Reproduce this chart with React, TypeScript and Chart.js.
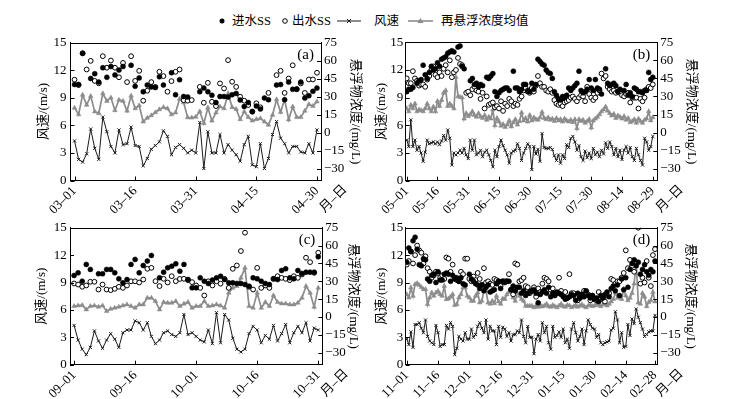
import React, { useEffect, useRef } from "react";
import { Chart, registerables } from "chart.js";
Chart.register(...registerables);

// ---------------- DATA ----------------
// Panel (a) 03-01 .. 04-30
const ticksA = ["03–01", "03–16", "03–31", "04–15", "04–30"];
const tickPosA = [0, 15, 30, 45, 60];
const windA = [4.3,2.3,2.0,2.9,5.6,3.5,2.3,6.9,5.3,3.7,3.0,5.5,3.9,4.0,5.8,3.8,3.7,1.6,2.4,3.4,3.8,4.2,5.4,4.8,2.8,3.6,3.9,3.5,3.0,3.3,3.0,6.3,1.3,5.3,3.0,3.0,5.0,3.0,3.9,3.3,2.8,2.1,3.9,4.8,1.7,1.5,4.0,1.3,2.4,5.0,6.4,4.6,4.0,3.0,3.7,3.7,3.1,3.0,4.0,3.0,5.5];
const resusA = [20.5,15,31.3,23,30.3,17.4,16,32.5,26.2,29,18.5,27.1,26.2,18.1,30.5,20,22.5,9,12.2,14.2,16.7,19.2,21,20,15,16.5,28,25,12.5,12.3,13,17.5,7.7,20.6,9.8,16.5,21.6,20,32.5,21,19.5,11,17.4,12.8,9.8,11,11.8,9,6.3,14.6,27.5,17,27.5,10.8,21.5,12.7,12.7,18,23.5,22,25.7];
const inflA = [40,40,66,null,45,49,42,54,46,55,48,52,55,null,56,38.5,45.5,34,39.5,38,37.5,46.4,39.5,null,49.8,31.5,44,30,29.6,null,null,34,37,34,31,25,30,30,29.5,31.5,32.6,27,21.7,25,17.5,22,19.6,28.7,27.3,null,39.5,40,27.3,42,36,36.3,42,28.7,30.7,34.3,37];
const efflA = [44,39.5,66,52.5,59.7,43,41,63.6,54,60,54,46,58,42,63.6,43,51.4,26.5,34.8,42,38,50.6,47,34,42.8,50.6,52.5,27,26.5,27,null,38,24.8,41.4,25.6,22,40.9,36.7,60.3,42.3,38,29.8,26.5,22.9,17.3,24.3,21,null,33,null,47.8,51.4,33,45,56,36,40.9,33,44.2,44.2,49.8];

// Panel (b) 05-01 .. 08-29
const ticksB = ["05–01", "05–16", "05–31", "06–15", "06–30", "07–15", "07–30", "08–14", "08–29"];
const tickPosB = [0, 15, 30, 45, 60, 75, 90, 105, 120];
const windB = [4.4,3.7,6.6,3.7,4.4,3.3,3.7,3.0,2.1,3.1,4.4,4.0,4.1,4.2,4.0,4.2,3.9,4.3,4.9,4.4,5.5,4.6,1.7,3.0,2.8,3.0,3.3,3.0,3.5,2.8,2.4,4.4,3.3,4.4,2.8,3.0,3.3,2.6,3.1,3.3,2.8,2.2,1.5,3.3,2.6,3.7,4.4,3.8,3.3,2.8,1.9,3.0,3.2,3.3,4.0,3.5,2.2,3.0,3.5,4.0,3.7,1.2,3.7,2.9,3.4,2.1,5.1,3.6,3.5,3.5,3.6,3.4,2.7,2.2,2.8,1.9,2.8,2.4,3.9,3.6,4.6,4.8,4.2,3.3,3.8,2.6,2.2,3.2,2.5,3.0,2.4,3.5,2.8,3.1,2.6,3.3,2.9,4.1,3.5,4.2,3.7,2.8,3.5,2.6,3.3,2.3,3.3,3.7,3.0,3.6,2.6,2.2,3.5,2.8,2.2,1.7,4.6,4.2,3.3,3.7,4.8];
const resusB = [20,17.5,23,20,24,17.5,19,18.5,17.5,20,24,20,17.5,21.5,17.5,26,22,27,33,35,22,24,22,20,46,30,29.5,29,11.5,16,13.5,15,17.5,14.5,13,16,13.2,12,14.5,10.5,13,11.5,19,6,12,9,5.5,7,4.5,6.5,10,5,8.5,11,6.5,9.5,16.5,10,12,9,14.5,10,12.5,11,10.5,12.5,17,12,11,12.5,10.5,11.5,9.5,12,10,11,9,11.5,10,9,10.5,8.5,11,3.5,11,9.5,10.5,8,9.5,11,4,10,11.5,13,15,17.5,19,21.5,18,16,14,15.5,12,14,13,11.5,13.5,10.5,12,8.5,9.5,11,8,11.5,9.5,8,10.5,11.5,17.5,10,12.5];
const inflB = [34,36,36,37.5,null,41,43,44,56,48,45,50,55,52,53,58,55,61,62,63,66,67,68,67,null,71,72,55,53,null,null,43,45,40,41,38,40,39,null,46,45,47,49,34,30,33,35,36,37,37,35,null,51,37,37,34,36,40,40,35,34,41,36,40,61,59,57,56,52,50,49,45,34,31,28,27,30,29,31,37,35,37,39,41,51,35,33,34,36,44,37,35,44,37,36,32,null,53,41,39,40,41,39,34,36,null,35,40,31,33,30,37,36,34,34,33,35,35,50,44,46];
const efflB = [45,41,41,51,45,43,39,40,40,38,44,47,52,55,48,46,50,47,53,56,50,60,46,50,52,62,57,56,null,33,34,31,36,38,35,34,28,33,20,30,23,24,25,21,22,20,26,18,24,22,28,26,22,24,23,28,30,35,37,34,33,37,34,39,47,41,38,38,35,34,36,33,27,24,23,24,22,25,26,27,29,30,28,26,29,31,30,26,38,32,29,27,29,33,35,49,45,47,38,36,34,35,33,34,33,31,30,32,33,25,29,29,29,20,28,26,29,36,38,37,40];

// Panel (c) 09-01 .. 10-31
const ticksC = ["09–01", "09–16", "10–01", "10–16", "10–31"];
const tickPosC = [0, 15, 30, 45, 60];
const windC = [4.3,2.7,1.7,1.1,1.9,3.7,2.6,1.8,2.7,3.4,2.8,1.9,3.5,3.8,3.8,4.8,4.6,3.8,4.6,3.1,2.3,2.7,3.5,3.7,3.3,3.1,3.5,5.5,3.3,3.5,3.1,2.7,2.5,3.8,2.3,5.7,2.4,5.5,4.9,2.9,1.7,1.4,1.7,3.4,4.2,3.8,2.4,3.2,2.8,4.3,2.6,3.4,4.4,2.4,3.5,4.2,3.5,4.6,2.6,4.0,3.8];
const resusC = [9.1,9.6,9.9,6.3,9.1,9.6,8.5,9.6,4.9,6.8,7.7,8.5,9.6,10.5,9.1,7.7,10.5,10.5,16.1,16.1,13.3,6.3,12.5,11.9,11.9,13.3,9.1,11.1,12.5,7.7,9.1,9.1,13.3,9.1,9.6,10.5,9.6,7.7,20.3,24.5,25.9,32.9,41.3,9.1,7.7,20.3,7.7,12.5,9.1,18.1,12.5,11.3,11.3,10.5,10.5,11.9,16.1,25.9,20.3,8.5,24.5];
const inflC = [34.9,37.1,30.1,44.2,40,null,36.3,36.3,40,40,37.1,32.1,28.7,31.5,44.2,48.4,37.1,43.3,47,51.7,null,33,37.7,41.3,42.7,44.7,38.5,44.2,31.5,24.5,24.5,32.9,30.1,28.2,31,32.9,34.3,31.5,28.7,28.7,28.2,28.2,27.3,25.9,32.9,32.1,30.1,28.2,27.3,32.1,31.5,39.1,40.5,32.9,32.1,39.1,36.6,37.7,37.7,37.7,50.6];
const efflC = [28.2,27.3,25.4,26.5,29.6,29.6,23.1,27.3,23.1,22.6,23.7,25.4,24.5,26.5,30,30,29,31.5,40.5,41.3,30.1,26,32.1,29,34.3,30.1,32,32.1,31,29.3,26.5,24.5,18.1,30,26.5,30,28,32,24.5,40.5,43.3,55.4,70.8,25.4,23.1,41.3,24.5,26.5,24.5,32.1,34.3,32.9,32.1,31,34.3,32.9,35.7,49.8,46.1,37.1,54];

// Panel (d) 11-01 .. 02-28
const ticksD = ["11–01", "11–16", "12–01", "12–16", "12–31", "01–15", "01–30", "02–14", "02–28"];
const tickPosD = [0, 15, 30, 45, 60, 75, 90, 105, 119];
const windD = [2.8,2.2,3.6,1.9,4.4,4.4,4.6,4.0,3.5,4.9,3.1,2.6,2.4,2.2,4.3,3.5,2.0,2.2,2.2,4.3,3.9,4.6,4.2,1.1,1.8,3.1,2.8,2.6,3.5,2.8,2.8,3.9,3.0,3.3,4.2,4.6,4.0,3.5,4.9,2.8,4.2,3.7,3.7,2.2,4.2,3.0,4.1,3.9,3.1,3.5,2.6,3.3,3.3,3.7,3.5,4.9,3.1,2.4,4.2,3.0,3.0,1.2,2.8,3.3,2.6,4.6,3.5,4.2,2.4,1.7,4.2,3.0,3.2,3.6,3.0,3.9,2.4,2.8,1.8,3.9,4.6,3.5,2.6,3.1,3.9,2.2,3.7,4.9,4.4,4.0,3.9,3.0,3.3,2.4,2.2,2.4,2.5,2.6,3.8,4.0,5.8,4.9,2.4,3.5,1.9,2.0,4.4,3.2,5.0,4.5,6.1,5.2,4.6,3.9,3.1,3.3,3.6,3.7,3.7,5.4];
const resusD = [19,16.3,24.7,17.7,27.5,28.4,26.7,25,23.3,23.3,10.7,16.3,20.5,17.7,20.5,21.9,19,17.7,26,14.9,15.5,17,19.1,9.9,10.7,16.3,19.1,24.7,24.7,17.7,16.3,13.5,13.5,17.7,20.5,12.1,13.5,21.9,21.9,12,11,13.5,11.5,17.7,13,11,15.5,15,19,21,23.3,16.3,13.5,20.5,17.7,15,13.5,9.3,9.3,9.3,9.3,8,9.5,8.5,10,8.8,9.5,11,9,8.5,10,9,8,9.5,11,9,8.5,10,9.5,8,9,10,8.5,9.5,10.5,9,8,9.5,10,9,9.5,11,10,9,10.5,12,9.5,11,13,15,20.5,16,17.7,15,23.3,18,14,16,20,28,45.6,12,11,20,17,9,12.5,14,21,13];
const inflD = [46,58,55,64,67,57,44,43,49,48,32,30,35,36,29,38,31,31,36,37,36,30,35,32,33,30,33,28,27,null,36,32,30,28,27,24,27,22,25,27,21,22,23,28,30,24,30,29,30,30,23,26,22,25,25,20,22,18,20,21,22,23,20,12,19,21,23,20,25,17,20,18,21,20,19,17,15,16,17,19,18,14,20,16,19,17,22,18,16,18,15,16,13,18,16,19,21,17,24,26,22,27,18,32,23,33,25,40,45,48,43,46,36,40,44,38,35,40,38,47];
const efflD = [44,47,55,45,52,60,56,54,45,51,41,38,33,35,38,37,33,35,32,50,49,38,44,33,31,30,38,36,49,49,32,30,34,31,37,32,27,41,29,30,28,27,32,31,30,26,30,30,30,36,23,19,45,44,30,31,33,26,25,20,22,25,17,24,21,28,33,32,30,23,24,19,20,33,22,18,21,16,36,20,20,16,14,16,19,22,21,19,14,18,15,14,21,15,16,13,18,20,32,31,28,30,30,33,37,56,41,48,43,38,46,75,28,33,29,47,33,26,52,57];

// ---------------- STYLE / LAYOUT ----------------
const SERIF = "'Liberation Serif', 'Noto Sans CJK SC', serif";
const CJK = "'Liberation Serif', 'Noto Sans CJK SC', sans-serif";
const CW = 368;
const CH = 185;

type Panel = {
  id: string;
  label: string;
  wind: number[];
  resus: number[];
  infl: (number | null)[];
  effl: (number | null)[];
  tickPos: number[];
  tickLab: string[];
  xMin: number;
  xMax: number;
  left: number;
  top: number;
  padL: number;
  axL: number;
  axR: number;
  padR: number;
  padT: number;
  xH: number;
  tickPadL: number;
};

const panels: Panel[] = [
  { id: "a", label: "(a)", wind: windA, resus: resusA, infl: inflA, effl: efflA, tickPos: tickPosA, tickLab: ticksA, xMin: -1, xMax: 61, left: 0, top: 30, padL: 35.5, axL: 35, axR: 41.8, padR: 5.2, padT: 12.5, xH: 34.5, tickPadL: 4 },
  { id: "b", label: "(b)", wind: windB, resus: resusB, infl: inflB, effl: efflB, tickPos: tickPosB, tickLab: ticksB, xMin: -0.5, xMax: 122.2, left: 368, top: 30, padL: 5.9, axL: 31.8, axR: 42.2, padR: 36.5, padT: 12.3, xH: 34.3, tickPadL: 2.4 },
  { id: "c", label: "(c)", wind: windC, resus: resusC, infl: inflC, effl: efflC, tickPos: tickPosC, tickLab: ticksC, xMin: -1, xMax: 61, left: 0, top: 214, padL: 33.9, axL: 36.1, axR: 38.8, padR: 6.9, padT: 13.7, xH: 34.3, tickPadL: 3.3 },
  { id: "d", label: "(d)", wind: windD, resus: resusD, infl: inflD, effl: efflD, tickPos: tickPosD, tickLab: ticksD, xMin: -0.5, xMax: 120.1, left: 368, top: 214, padL: 5.9, axL: 31.8, axR: 40.5, padR: 38.2, padT: 13.7, xH: 34.3, tickPadL: 2.4 },
];

const toPts = (arr: (number | null)[]) =>
  arr.map((v, i) => (v == null ? null : { x: i, y: v })).filter((p) => p !== null) as { x: number; y: number }[];

const framePlugin = {
  id: "frame",
  afterDraw(chart: any, _args: any, opts: any) {
    const { ctx, chartArea } = chart;
    const { left, right, top, bottom } = chartArea;
    ctx.save();
    ctx.strokeStyle = "#000";
    ctx.lineWidth = 1;
    ctx.beginPath();
    ctx.moveTo(left, Math.round(top) + 0.5);
    ctx.lineTo(right, Math.round(top) + 0.5);
    ctx.stroke();
    const xs = chart.scales.x;
    const ys = chart.scales.y;
    const y1 = chart.scales.y1;
    ctx.beginPath();
    xs.ticks.forEach((_t: any, i: number) => {
      const px = Math.round(xs.getPixelForTick(i)) + 0.5;
      ctx.moveTo(px, bottom);
      ctx.lineTo(px, bottom - 4);
    });
    ys.ticks.forEach((_t: any, i: number) => {
      const py = Math.round(ys.getPixelForTick(i)) + 0.5;
      ctx.moveTo(left, py);
      ctx.lineTo(left + 4, py);
    });
    y1.ticks.forEach((_t: any, i: number) => {
      const py = Math.round(y1.getPixelForTick(i)) + 0.5;
      ctx.moveTo(right, py);
      ctx.lineTo(right - 4, py);
    });
    ctx.stroke();
    ctx.fillStyle = "#000";
    ctx.font = "15px " + SERIF;
    ctx.textAlign = "right";
    ctx.textBaseline = "top";
    ctx.fillText(opts.label, right - 7, top + 5);
    ctx.translate(right + 24, bottom + 7);
    ctx.rotate(-Math.PI / 4);
    ctx.font = "13px " + CJK;
    ctx.textAlign = "right";
    ctx.textBaseline = "middle";
    ctx.fillText("月–日", 0, 0);
    ctx.restore();
  },
};

function makeConfig(p: Panel): any {
  const tickFont = { family: SERIF, size: 13 };
  const titleFont = { family: CJK, size: 13 };
  return {
    type: "line",
    data: {
      datasets: [
        {
          label: "进水SS",
          data: toPts(p.infl),
          showLine: false,
          pointStyle: "circle",
          pointRadius: 2.5,
          pointBackgroundColor: "#000",
          pointBorderColor: "#000",
          pointBorderWidth: 0.5,
          yAxisID: "y1",
        },
        {
          label: "出水SS",
          data: toPts(p.effl),
          showLine: false,
          pointStyle: "circle",
          pointRadius: 2.4,
          pointBackgroundColor: "#fff",
          pointBorderColor: "#000",
          pointBorderWidth: 1,
          yAxisID: "y1",
        },
        {
          label: "风速",
          data: toPts(p.wind),
          borderColor: "#1a1a1a",
          borderWidth: 1,
          pointStyle: "crossRot",
          pointRadius: 2.2,
          pointBorderColor: "#1a1a1a",
          pointBorderWidth: 1,
          tension: 0,
          yAxisID: "y",
        },
        {
          label: "再悬浮浓度均值",
          data: toPts(p.resus),
          borderColor: "#8c8c8c",
          borderWidth: 1.7,
          pointStyle: "triangle",
          pointRadius: 2.7,
          pointBackgroundColor: "#8c8c8c",
          pointBorderColor: "#8c8c8c",
          pointBorderWidth: 0.5,
          tension: 0,
          yAxisID: "y1",
        },
      ],
    },
    options: {
      responsive: false,
      animation: false,
      devicePixelRatio: 1,
      layout: { padding: { left: p.padL, right: p.padR, top: p.padT, bottom: 0 } },
      plugins: {
        legend: { display: false },
        tooltip: { enabled: false },
        frame: { label: p.label },
      },
      scales: {
        x: {
          type: "linear",
          min: p.xMin,
          max: p.xMax,
          grid: { display: false, drawTicks: false },
          border: { display: true, color: "#000", width: 1 },
          afterBuildTicks: (s: any) => {
            s.ticks = p.tickPos.map((v) => ({ value: v }));
          },
          afterFit: (s: any) => {
            s.height = p.xH;
          },
          ticks: {
            autoSkip: false,
            minRotation: 45,
            maxRotation: 45,
            padding: 3,
            color: "#000",
            font: tickFont,
            callback: (v: number) => {
              const i = p.tickPos.indexOf(v);
              return i >= 0 ? p.tickLab[i] : "";
            },
          },
        },
        y: {
          position: "left",
          min: 0,
          max: 15,
          grid: { display: false, drawTicks: false },
          border: { display: true, color: "#000", width: 1 },
          afterFit: (s: any) => {
            s.width = p.axL;
          },
          ticks: { stepSize: 3, padding: p.tickPadL, color: "#000", font: tickFont },
          title: { display: true, text: "风速/(m/s)", color: "#000", font: titleFont, padding: 0 },
        },
        y1: {
          position: "right",
          min: -40,
          max: 75,
          grid: { display: false, drawTicks: false },
          border: { display: true, color: "#000", width: 1 },
          afterFit: (s: any) => {
            s.width = p.axR;
          },
          ticks: {
            stepSize: 15,
            includeBounds: false,
            padding: 3,
            color: "#000",
            font: tickFont,
            callback: (v: number) => String(v).replace("-", "−"),
          },
          title: { display: true, text: "悬浮物浓度/(mg/L)", color: "#000", font: titleFont, padding: 0 },
        },
      },
    },
    plugins: [framePlugin],
  };
}

function PanelChart({ p }: { p: Panel }) {
  const ref = useRef<HTMLCanvasElement>(null);
  useEffect(() => {
    const chart = new Chart(ref.current as HTMLCanvasElement, makeConfig(p));
    return () => chart.destroy();
  }, [p]);
  return (
    <canvas
      ref={ref}
      width={CW}
      height={CH}
      style={{ position: "absolute", left: p.left, top: p.top, width: CW, height: CH }}
    />
  );
}

function Legend() {
  const txt: React.CSSProperties = {
    position: "absolute",
    top: 13,
    fontFamily: CJK,
    fontSize: 12.5,
    lineHeight: "16px",
    color: "#000",
    whiteSpace: "nowrap",
  };
  const cy = 21;
  return (
    <div style={{ position: "absolute", left: 0, top: 0, width: 736, height: 36 }}>
      <svg width={736} height={36} style={{ position: "absolute", left: 0, top: 0 }}>
        <circle cx={222} cy={cy} r={2.5} fill="#000" />
        <circle cx={285} cy={cy} r={2.3} fill="#fff" stroke="#000" strokeWidth={1} />
        <line x1={337} y1={cy} x2={361} y2={cy} stroke="#1a1a1a" strokeWidth={1} />
        <path d={`M347 ${cy - 2} L351 ${cy + 2} M351 ${cy - 2} L347 ${cy + 2}`} stroke="#1a1a1a" strokeWidth={1} />
        <line x1={408} y1={cy} x2={433} y2={cy} stroke="#8c8c8c" strokeWidth={1.6} />
        <path d={`M420.5 ${cy - 3} L423.5 ${cy + 2} L417.5 ${cy + 2} Z`} fill="#8c8c8c" />
      </svg>
      <span style={{ ...txt, left: 232 }}>进水SS</span>
      <span style={{ ...txt, left: 292 }}>出水SS</span>
      <span style={{ ...txt, left: 374 }}>风速</span>
      <span style={{ ...txt, left: 441 }}>再悬浮浓度均值</span>
    </div>
  );
}

export default function App() {
  return (
    <div style={{ position: "fixed", left: 0, top: 0, width: 736, height: 399, background: "#fff", overflow: "hidden" }}>
      <Legend />
      {panels.map((p) => (
        <PanelChart key={p.id} p={p} />
      ))}
    </div>
  );
}
